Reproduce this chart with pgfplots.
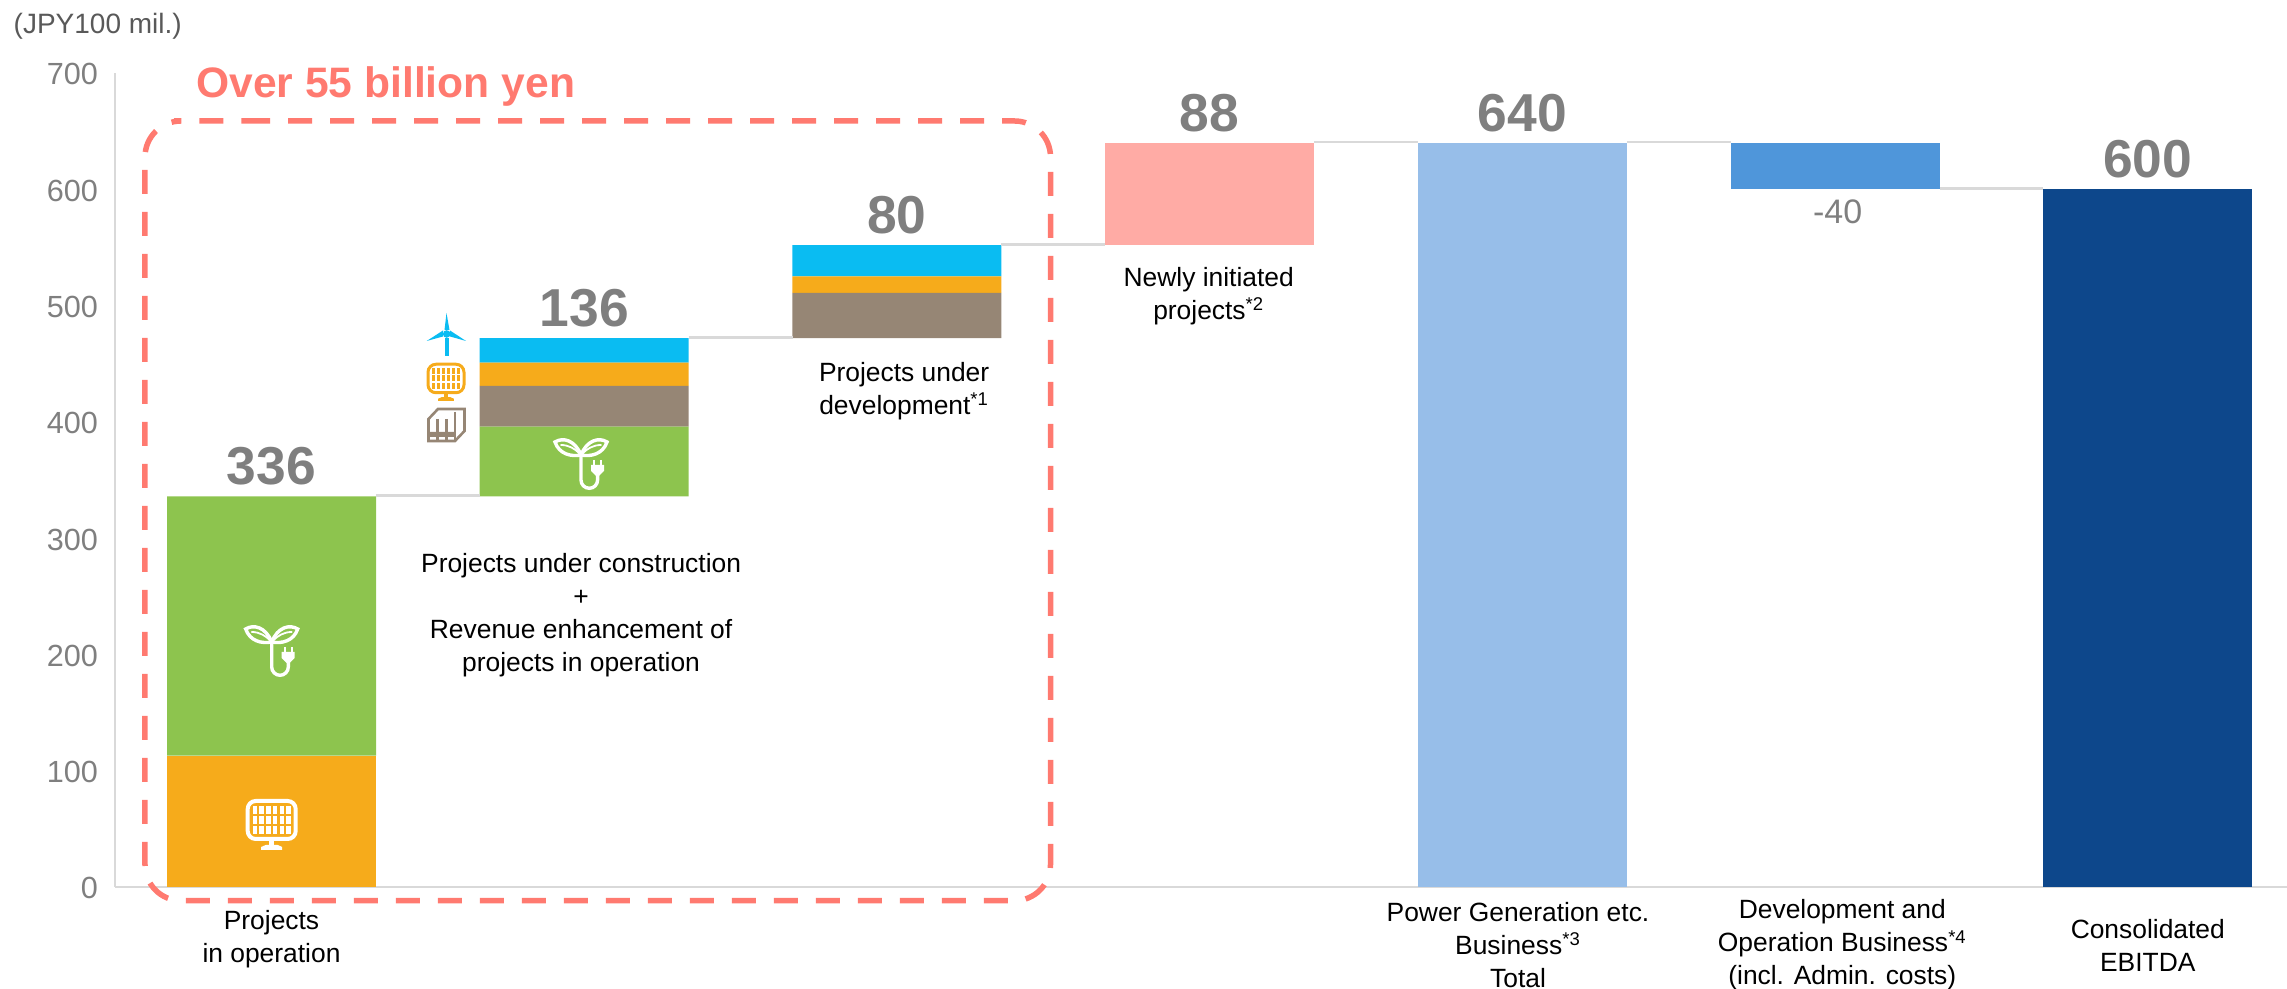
\documentclass[border=0pt]{standalone}
\usepackage{fontspec}
\setmainfont{Liberation Sans}
\usepackage{pgfplots}
\usepackage{pgfplotstable}
\pgfplotsset{compat=1.18}

\definecolor{cgreen}{HTML}{8DC44E}
\definecolor{corange}{HTML}{F6AB1B}
\definecolor{cbrown}{HTML}{968675}
\definecolor{ccyan}{HTML}{0ABCF2}
\definecolor{cpink}{HTML}{FFABA5}
\definecolor{clight}{HTML}{97BEE9}
\definecolor{cmid}{HTML}{4F96DA}
\definecolor{cdark}{HTML}{0D478B}
\definecolor{cdash}{HTML}{FF7A70}
\definecolor{cgridl}{HTML}{D9D9D9}
\definecolor{cval}{HTML}{7F7F7F}

% stack order bottom to top, base is the invisible offset
\pgfplotstableread{
pos base solar green biomass solartop wind pink light mid dark
0   0    113   223   0       0        0    0    0     0   0
1   336  0     60    35      20       21   0    0     0   0
2   472  0     0     39      14       27   0    0     0   0
3   552  0     0     0       0        0    88   0     0   0
4   0    0     0     0       0        0    0    640   0   0
5   600  0     0     0       0        0    0    0     40  0
6   0    0     0     0       0        0    0    0     0   600
}\wfdata

\pgfplotsset{
  wfaxis/.style={
    scale only axis, width=1086pt, height=407pt,
    xmin=-0.5005, xmax=6.445, ymin=0, ymax=700,
    clip=false,
  },
}
\tikzset{
  valnode/.style={anchor=base, text=cval, font=\fontsize{26.7}{30}\selectfont\bfseries},
  catnode/.style={align=center, text=black, font=\fontsize{13.2}{16.5}\selectfont},
}

% icons: coordinates are reference pixels, origin at the stem top / panel centre
\newcommand{\sprout}[3]{%
  \begin{scope}[shift={(#1,#2)},scale=#3,white,line width=1.7pt,line cap=round]
    \draw (0,-1) .. controls (-6,-16) and (-18,-19) .. (-26,-14) .. controls (-22,-2) and (-10,1) .. cycle;
    \draw (0,-1) .. controls (6,-16) and (18,-19) .. (26,-14) .. controls (22,-2) and (10,1) .. cycle;
    \draw[line width=.9pt] (-20,-11) .. controls (-12,-11) and (-6,-7) .. (-2,-3);
    \draw[line width=.9pt] (20,-11) .. controls (12,-11) and (6,-7) .. (2,-3);
    \draw (0,-1) -- (0,24) arc[start angle=180,end angle=0,radius=8.3] -- (16.6,18);
    \fill (10,9) -- (23,9) -- (23,15) -- (18,20) -- (15,20) -- (10,15) -- cycle;
    \draw[line width=1pt,line cap=butt] (13,4) -- (13,9) (20,4) -- (20,9);
  \end{scope}}
\newcommand{\panel}[4]{%
  \begin{scope}[shift={(#1,#2)},scale=#3]
    \draw[#4,line width=2pt*#3,rounded corners=4pt] (-24,-19) rectangle (24,19);
    \foreach \cx in {-19,-12.5,-5.5,1,8,14.5} \foreach \cy in {-14,-4,6}
      \fill[#4] (\cx,\cy) rectangle ++(4.6,8);
    \fill[#4] (-2.5,21) rectangle (2.5,27);
    \fill[#4] (-10.5,27) -- (-6,25) -- (6,25) -- (10.5,27) -- (10.5,30) -- (-10.5,30) -- cycle;
  \end{scope}}

\begin{document}
\begin{tikzpicture}
% canvas of the reference, in its pixels
\path[use as bounding box,x=0.5pt,y=-0.5pt,shift={(-57.5pt,443.5pt)}] (0,0) rectangle (2287,989);

\begin{axis}[
  wfaxis,
  ybar stacked, bar width=104.5pt,
  axis x line=bottom, axis y line=left,
  axis line style={cgridl,line width=1.2pt,-},
  major tick length=0pt,
  xtick={3.986,5.023,6},
  xticklabels={
    {Power Generation etc.\\Business\textsuperscript{*3}\\Total},
    {Development and\\Operation Business\textsuperscript{*4}\\(incl. Admin. costs)},
    {Consolidated\\EBITDA}},
  x tick label style={align=center,anchor=center,yshift=-29pt,text=black,
    font=\fontsize{13.2}{16.5}\selectfont},
  extra x ticks={0},
  extra x tick labels={{Projects\\in operation}},
  extra x tick style={x tick label style={yshift=2.9pt}},
  ytick={0,100,...,700},
  y tick label style={text=cval,yshift=-0.7pt,xshift=-5pt,font=\fontsize{15.3}{18}\selectfont},
  /pgf/number format/assume math mode=true,
]
\addplot[fill=none,draw=none] table[x=pos,y=base]{\wfdata};
\addplot[fill=corange,draw=none] table[x=pos,y=solar]{\wfdata};
\addplot[fill=cgreen,draw=none] table[x=pos,y=green]{\wfdata};
\addplot[fill=cbrown,draw=none] table[x=pos,y=biomass]{\wfdata};
\addplot[fill=corange,draw=none] table[x=pos,y=solartop]{\wfdata};
\addplot[fill=ccyan,draw=none] table[x=pos,y=wind]{\wfdata};
\addplot[fill=cpink,draw=none] table[x=pos,y=pink]{\wfdata};
\addplot[fill=clight,draw=none] table[x=pos,y=light]{\wfdata};
\addplot[fill=cmid,draw=none] table[x=pos,y=mid]{\wfdata};
\addplot[fill=cdark,draw=none] table[x=pos,y=dark]{\wfdata};

% values above the bars
\node[valnode] at (axis cs:0,346) {336};
\node[valnode] at (axis cs:1,482) {136};
\node[valnode] at (axis cs:2,562) {80};
\node[valnode] at (axis cs:3,650) {88};
\node[valnode] at (axis cs:4,650) {640};
\node[valnode] at (axis cs:6,610) {600};
\node[anchor=base,text=cval,font=\fontsize{17}{20}\selectfont] at (axis cs:5.008,570.5) {-40};

% captions
\node[catnode] at (axis cs:0.99,234) {Projects under construction\\+\\Revenue enhancement of\\projects in operation};
\node[catnode] at (axis cs:2.023,426.5) {Projects under\\development\textsuperscript{*1}};
\node[catnode] at (axis cs:2.997,508) {Newly initiated\\projects\textsuperscript{*2}};

\node[anchor=base west,text=black!65,font=\fontsize{14}{16}\selectfont] at (axis cs:-0.847,734) {(JPY100 mil.)};
\node[anchor=base,text=cdash,font=\fontsize{21.3}{24}\selectfont\bfseries] at (axis cs:0.365,678.5) {Over 55 billion yen};
\end{axis}

% connector lines between the bars
\begin{axis}[wfaxis,hide axis]
\addplot[cgridl,line width=1.2pt,forget plot] coordinates {(0.334,336.5) (0.666,336.5)};
\addplot[cgridl,line width=1.2pt,forget plot] coordinates {(1.334,472.5) (1.666,472.5)};
\addplot[cgridl,line width=1.2pt,forget plot] coordinates {(2.334,552.5) (2.666,552.5)};
\addplot[cgridl,line width=1.2pt,forget plot] coordinates {(3.334,640.5) (3.666,640.5)};
\addplot[cgridl,line width=1.2pt,forget plot] coordinates {(4.334,640.5) (4.666,640.5)};
\addplot[cgridl,line width=1.2pt,forget plot] coordinates {(5.334,600.5) (5.666,600.5)};
\end{axis}

\begin{scope}[x=0.5pt,y=-0.5pt,shift={(-57.5pt,443.5pt)}]
  % dashed frame
  \draw[cdash,line width=2.75pt,dash pattern=on 12pt off 9pt,rounded corners=18pt]
    (210,121) -- (1050.5,121) -- (1050.5,900.7) -- (145,900.7) -- (145,121) -- cycle;
  % white icons in the bars
  \sprout{271.7}{643}{1}
  \panel{271.7}{820}{1}{white}
  \sprout{581}{456}{1}
  % icons beside the second bar
  \panel{446}{378.5}{0.75}{corange}
  \begin{scope}[ccyan]
    \fill (446.7,334) circle (3.8);
    \fill (444.5,330) -- (446.5,313) -- (449.5,330) -- cycle;
    \fill (443,336.5) -- (426.7,341) -- (443,330.5) -- cycle;
    \fill (450,336.5) -- (466,341) -- (450,330.5) -- cycle;
    \fill (445,338) rectangle (448.5,356);
  \end{scope}
  \begin{scope}[cbrown,line width=1.3pt]
    \draw (438,409) -- (464.5,409) -- (464.5,431) -- (455,441) -- (428.5,441) -- (428.5,419) -- cycle;
    \draw (437.5,419) -- (437.5,441) (446.5,419) -- (446.5,441) (455,412) -- (455,441);
    \fill (430,432) rectangle (436.5,437) (439,432) rectangle (445.5,437) (448,432) rectangle (454,437);
  \end{scope}
\end{scope}
\end{tikzpicture}
\end{document}
